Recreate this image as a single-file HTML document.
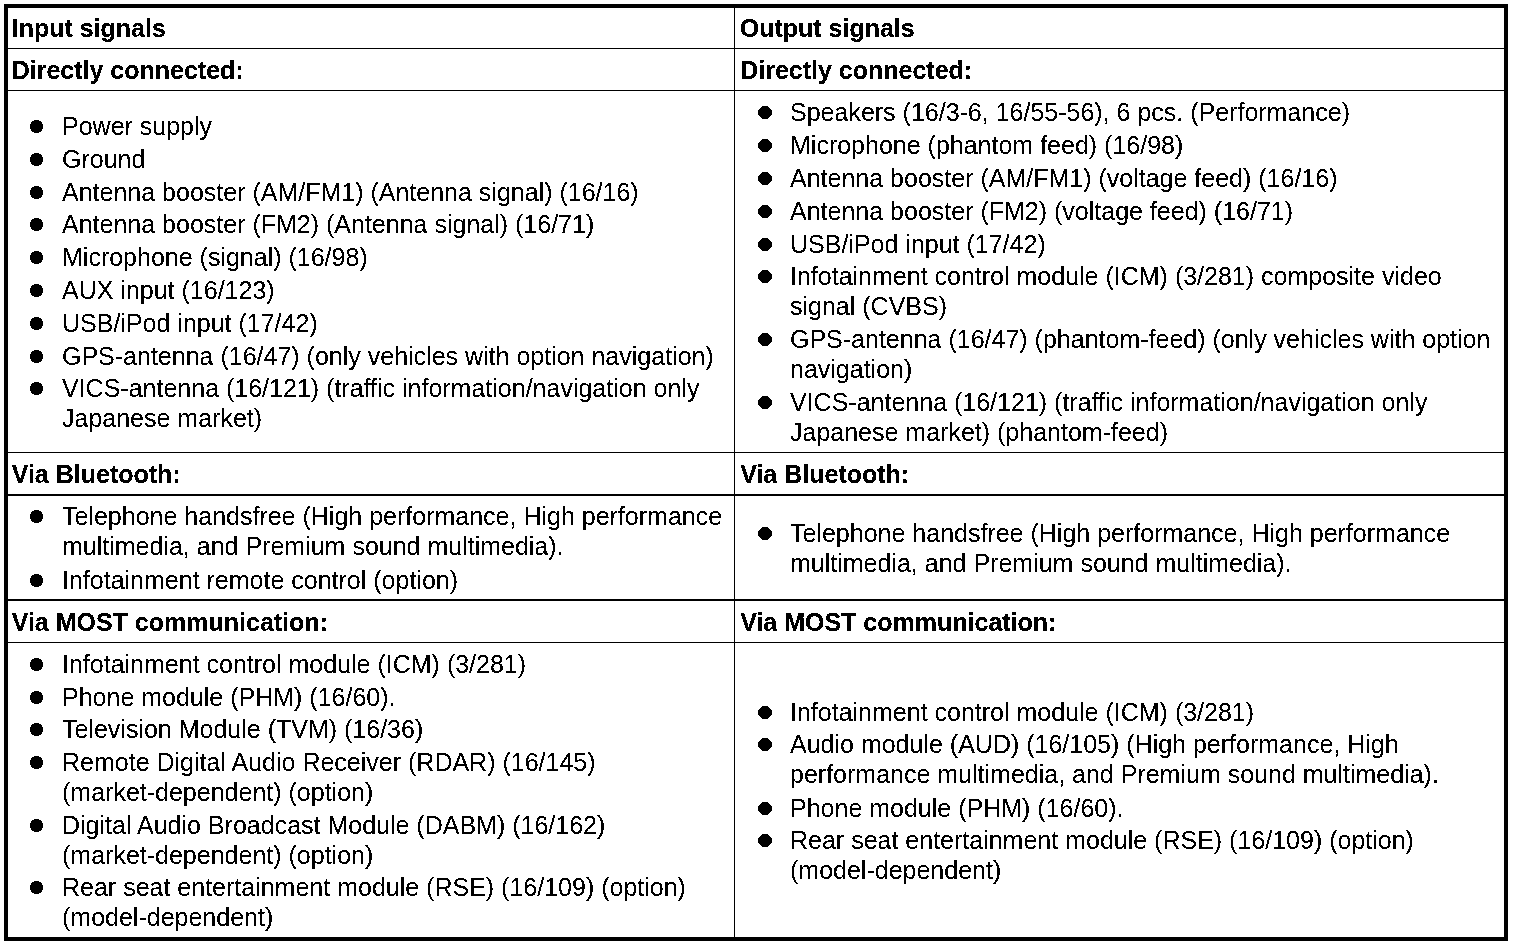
<!DOCTYPE html>
<html lang="en"><head><meta charset="utf-8"><title>Input and output signals</title>
<style>
html,body{margin:0;padding:0;background:#fff}
body{width:1520px;height:946px;position:relative;overflow:hidden;font-family:"Liberation Sans",Arial,Helvetica,sans-serif;font-size:25px;line-height:28px;color:#000}
#frame{position:absolute;left:4px;top:4px;width:1504px;height:937px;box-sizing:border-box;border:4px solid #000}
table{position:absolute;left:8px;top:8px;width:1496px;border-collapse:separate;border-spacing:0;table-layout:fixed}
td{padding:0;vertical-align:top;border:0 solid #000}
td.a{width:726px;border-right-width:1px}
td.b{width:769px}
td>div{position:relative;overflow:hidden;white-space:nowrap}
h3{position:absolute;margin:0;font-size:25px;line-height:28px;font-weight:bold}
ul{list-style:none;margin:0;padding:0}
li{position:absolute;margin:0;padding:0}
li>span{position:absolute;left:0;display:block}
li::before{content:"";position:absolute;left:-32.2px;top:8px;width:13.5px;height:13px;border-radius:50%;background:#000}
td.b li::before{left:-31.8px}
.ls{filter:url(#bw)}
.hd{filter:url(#bwb)}

tr.r0 td{border-bottom-width:1px} tr.r0 td>div{height:40px}
tr.r1 td{border-bottom-width:1px} tr.r1 td>div{height:41px}
tr.r2 td{border-bottom-width:1px} tr.r2 td>div{height:361px}
tr.r3 td{border-bottom-width:2px} tr.r3 td>div{height:41px}
tr.r4 td{border-bottom-width:2px} tr.r4 td>div{height:103px}
tr.r5 td{border-bottom-width:1px} tr.r5 td>div{height:41px}
tr.r6 td{border-bottom-width:0px} tr.r6 td>div{height:294px}
</style></head><body>
<svg width="0" height="0" style="position:absolute" aria-hidden="true"><filter id="bw" x="0" y="0" width="100%" height="100%" color-interpolation-filters="sRGB"><feComponentTransfer><feFuncA type="discrete" tableValues="0 0 0 0 0 0 0 0 0 1 1 1 1 1 1 1 1 1 1 1"/></feComponentTransfer></filter><filter id="bwb" x="0" y="0" width="100%" height="100%" color-interpolation-filters="sRGB"><feComponentTransfer><feFuncA type="discrete" tableValues="0 0 0 0 0 0 0 0 1 1 1 1 1 1 1 1 1 1 1 1"/></feComponentTransfer></filter></svg>
<div id="frame"></div>
<table><tbody>
<tr class="r0">
<td class="a"><div class="hd"><h3 style="left:3.7px;top:6px">Input signals</h3></div></td>
<td class="b"><div class="hd"><h3 style="left:4.7px;top:6px">Output signals</h3></div></td>
</tr>
<tr class="r1">
<td class="a"><div class="hd"><h3 style="left:3.7px;top:7px">Directly connected:</h3></div></td>
<td class="b"><div class="hd"><h3 style="left:5.2px;top:7px">Directly connected:</h3></div></td>
</tr>
<tr class="r2">
<td class="a"><div class="ls"><ul><li style="left:54px;top:21px"><span style="top:0px">Power supply</span></li>
<li style="left:54px;top:54px"><span style="top:0px">Ground</span></li>
<li style="left:54px;top:87px"><span style="top:0px">Antenna booster (AM/FM1) (Antenna signal) (16/16)</span></li>
<li style="left:54px;top:119px"><span style="top:0px">Antenna booster (FM2) (Antenna signal) (16/71)</span></li>
<li style="left:54px;top:152px"><span style="top:0px">Microphone (signal) (16/98)</span></li>
<li style="left:54px;top:185px"><span style="top:0px">AUX input (16/123)</span></li>
<li style="left:54px;top:218px"><span style="top:0px">USB/iPod input (17/42)</span></li>
<li style="left:54px;top:251px"><span style="top:0px">GPS-antenna (16/47) (only vehicles with option navigation)</span></li>
<li style="left:54px;top:283px"><span style="top:0px">VICS-antenna (16/121) (traffic information/navigation only </span><span style="top:30px">Japanese market)</span></li></ul></div></td>
<td class="b"><div class="ls"><ul><li style="left:55px;top:7px"><span style="top:0px">Speakers (16/3-6, 16/55-56), 6 pcs. (Performance)</span></li>
<li style="left:55px;top:40px"><span style="top:0px">Microphone (phantom feed) (16/98)</span></li>
<li style="left:55px;top:73px"><span style="top:0px">Antenna booster (AM/FM1) (voltage feed) (16/16)</span></li>
<li style="left:55px;top:106px"><span style="top:0px">Antenna booster (FM2) (voltage feed) (16/71)</span></li>
<li style="left:55px;top:139px"><span style="top:0px">USB/iPod input (17/42)</span></li>
<li style="left:55px;top:171px"><span style="top:0px">Infotainment control module (ICM) (3/281) composite video </span><span style="top:30px">signal (CVBS)</span></li>
<li style="left:55px;top:234px"><span style="top:0px">GPS-antenna (16/47) (phantom-feed) (only vehicles with option </span><span style="top:30px">navigation)</span></li>
<li style="left:55px;top:297px"><span style="top:0px">VICS-antenna (16/121) (traffic information/navigation only </span><span style="top:30px">Japanese market) (phantom-feed)</span></li></ul></div></td>
</tr>
<tr class="r3">
<td class="a"><div class="hd"><h3 style="left:3.7px;top:7px">Via Bluetooth:</h3></div></td>
<td class="b"><div class="hd"><h3 style="left:5.2px;top:7px">Via Bluetooth:</h3></div></td>
</tr>
<tr class="r4">
<td class="a"><div class="ls"><ul><li style="left:54px;top:6px"><span style="top:0px">Telephone handsfree (High performance, High performance </span><span style="top:30px">multimedia, and Premium sound multimedia).</span></li>
<li style="left:54px;top:70px"><span style="top:0px">Infotainment remote control (option)</span></li></ul></div></td>
<td class="b"><div class="ls"><ul><li style="left:55px;top:23px"><span style="top:0px">Telephone handsfree (High performance, High performance </span><span style="top:30px">multimedia, and Premium sound multimedia).</span></li></ul></div></td>
</tr>
<tr class="r5">
<td class="a"><div class="hd"><h3 style="left:3.7px;top:7px">Via MOST communication:</h3></div></td>
<td class="b"><div class="hd"><h3 style="left:5.2px;top:7px">Via MOST communication:</h3></div></td>
</tr>
<tr class="r6">
<td class="a"><div class="ls"><ul><li style="left:54px;top:7px"><span style="top:0px">Infotainment control module (ICM) (3/281)</span></li>
<li style="left:54px;top:40px"><span style="top:0px">Phone module (PHM) (16/60).</span></li>
<li style="left:54px;top:72px"><span style="top:0px">Television Module (TVM) (16/36)</span></li>
<li style="left:54px;top:105px"><span style="top:0px">Remote Digital Audio Receiver (RDAR) (16/145) </span><span style="top:30px">(market-dependent) (option)</span></li>
<li style="left:54px;top:168px"><span style="top:0px">Digital Audio Broadcast Module (DABM) (16/162) </span><span style="top:30px">(market-dependent) (option)</span></li>
<li style="left:54px;top:230px"><span style="top:0px">Rear seat entertainment module (RSE) (16/109) (option) </span><span style="top:30px">(model-dependent)</span></li></ul></div></td>
<td class="b"><div class="ls"><ul><li style="left:55px;top:55px"><span style="top:0px">Infotainment control module (ICM) (3/281)</span></li>
<li style="left:55px;top:87px"><span style="top:0px">Audio module (AUD) (16/105) (High performance, High </span><span style="top:30px">performance multimedia, and Premium sound multimedia).</span></li>
<li style="left:55px;top:151px"><span style="top:0px">Phone module (PHM) (16/60).</span></li>
<li style="left:55px;top:183px"><span style="top:0px">Rear seat entertainment module (RSE) (16/109) (option) </span><span style="top:30px">(model-dependent)</span></li></ul></div></td>
</tr>
</tbody></table></body></html>
